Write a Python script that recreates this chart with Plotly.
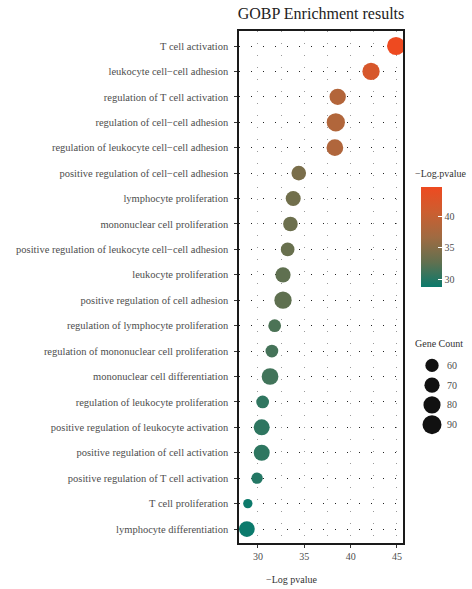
import plotly.graph_objects as go

terms = [
    "T cell activation",
    "leukocyte cell\u2212cell adhesion",
    "regulation of T cell activation",
    "regulation of cell\u2212cell adhesion",
    "regulation of leukocyte cell\u2212cell adhesion",
    "positive regulation of cell\u2212cell adhesion",
    "lymphocyte proliferation",
    "mononuclear cell proliferation",
    "positive regulation of leukocyte cell\u2212cell adhesion",
    "leukocyte proliferation",
    "positive regulation of cell adhesion",
    "regulation of lymphocyte proliferation",
    "regulation of mononuclear cell proliferation",
    "mononuclear cell differentiation",
    "regulation of leukocyte proliferation",
    "positive regulation of leukocyte activation",
    "positive regulation of cell activation",
    "positive regulation of T cell activation",
    "T cell proliferation",
    "lymphocyte differentiation",
]
neg_log_p = [44.9, 42.2, 38.6, 38.4, 38.3, 34.4, 33.8, 33.5, 33.2, 32.7,
             32.7, 31.8, 31.5, 31.3, 30.5, 30.4, 30.4, 29.9, 28.9, 28.8]
gene_count = [85, 81, 76, 86, 78, 67, 69, 67, 62, 70,
              81, 57, 57, 78, 57, 74, 74, 50, 39, 73]
x_ticks = [30, 35, 40, 45]
legend_counts = [60, 70, 80, 90]
color_ticks = [30, 35, 40]

FONT = "Liberation Serif"
W, H = 472, 589
ML, MR, MT, MB = 239, 0, 31, 46
PW = W - ML - MR
PH = H - MT - MB


def px_x(px):
    return (px - ML) / PW


def px_y(py):
    return 1 - (py - MT) / PH


def diam(c):
    return 1.9 + 0.19 * c


colorscale = [
    [0.0, "#0b7a6c"],
    [0.25, "#62704f"],
    [0.5, "#a06b42"],
    [0.75, "#cc5e30"],
    [1.0, "#ee4a20"],
]
cmin, cmax = min(neg_log_p), max(neg_log_p)

fig = go.Figure()
fig.add_trace(go.Scatter(
    x=neg_log_p, y=terms, mode="markers", showlegend=False,
    cliponaxis=True,
    marker=dict(
        size=[diam(c) for c in gene_count],
        color=neg_log_p, colorscale=colorscale, cmin=cmin, cmax=cmax,
        line=dict(width=0), opacity=1,
        colorbar=dict(
            x=px_x(421), xanchor="left", xpad=0, ypad=0,
            y=px_y(236.5), yanchor="middle",
            lenmode="pixels", len=100, thickness=21,
            outlinewidth=0,
            tickvals=color_ticks, ticks="inside", ticklen=4,
            tickcolor="white", tickwidth=1,
            tickfont=dict(family=FONT, size=10, color="#4d4d4d"),
        ),
    ),
    xaxis="x", yaxis="y",
))

# size legend
fig.add_trace(go.Scatter(
    x=["k"] * len(legend_counts), y=[str(c) for c in legend_counts],
    mode="markers", showlegend=False, cliponaxis=False,
    marker=dict(size=[diam(c) for c in legend_counts], color="#111111",
                line=dict(width=0), opacity=1),
    opacity=1,
    xaxis="x2", yaxis="y2", hoverinfo="skip",
))

fig.update_layout(
    width=W, height=H,
    margin=dict(l=ML, r=MR, t=MT, b=MB),
    paper_bgcolor="white", plot_bgcolor="white",
    font=dict(family=FONT, color="#4d4d4d"),
    title=dict(text="GOBP Enrichment results", xref="paper",
               x=px_x(321), xanchor="center", yref="container",
               y=1 - 13 / H, yanchor="middle",
               font=dict(family=FONT, size=16, color="#222222")),
    xaxis=dict(
        domain=[0, px_x(403)], range=[27.95, 45.65],
        tickvals=x_ticks, ticks="outside", ticklen=3, tickcolor="#333",
        tickfont=dict(family=FONT, size=10, color="#4d4d4d"),
        showline=True, linecolor="#1a1a1a", linewidth=1.5, mirror=True,
        showgrid=True, gridcolor="#999999", gridwidth=1,
        griddash="1px,11px",
        minor=dict(tickvals=[32.5, 37.5, 42.5], showgrid=True,
                   gridcolor="#999999", gridwidth=1, griddash="1px,11px"),
        zeroline=False, anchor="y",
    ),
    yaxis=dict(
        categoryorder="array", categoryarray=terms,
        range=[19.55, -0.59],
        ticks="outside", ticklen=3, tickcolor="#333",
        ticklabelstandoff=4,
        tickfont=dict(family=FONT, size=10.5, color="#4d4d4d"),
        showline=True, linecolor="#1a1a1a", linewidth=1.5, mirror=True,
        showgrid=True, gridcolor="#222222", gridwidth=1,
        griddash="1px,11px",
        zeroline=False, anchor="x",
    ),
    xaxis2=dict(domain=[px_x(418), px_x(446)], anchor="y2",
                showgrid=False, showline=False, showticklabels=False,
                zeroline=False, ticks=""),
    yaxis2=dict(domain=[px_y(434.5), px_y(355.5)], anchor="x2",
                categoryorder="array",
                categoryarray=[str(c) for c in legend_counts],
                range=[3.5, -0.5], side="right",
                showgrid=False, showline=False, zeroline=False, ticks="",
                tickfont=dict(family=FONT, size=10, color="#4d4d4d")),
    annotations=[
        dict(text="\u2212Log pvalue", xref="paper", yref="paper",
             x=px_x(291), y=px_y(579), xanchor="center", yanchor="middle",
             showarrow=False, font=dict(family=FONT, size=10, color="#333")),
        dict(text="\u2212Log.pvalue", xref="paper", yref="paper",
             x=px_x(413), y=px_y(173), xanchor="left", yanchor="middle",
             showarrow=False, font=dict(family=FONT, size=10, color="#333")),
        dict(text="Gene Count", xref="paper", yref="paper",
             x=px_x(413), y=px_y(343), xanchor="left", yanchor="middle",
             showarrow=False, font=dict(family=FONT, size=10, color="#333")),
    ],
)

fig.write_html(
    "out.html",
    config={"displayModeBar": False},
    post_script="document.body.style.margin='0';document.body.style.padding='0';",
)
